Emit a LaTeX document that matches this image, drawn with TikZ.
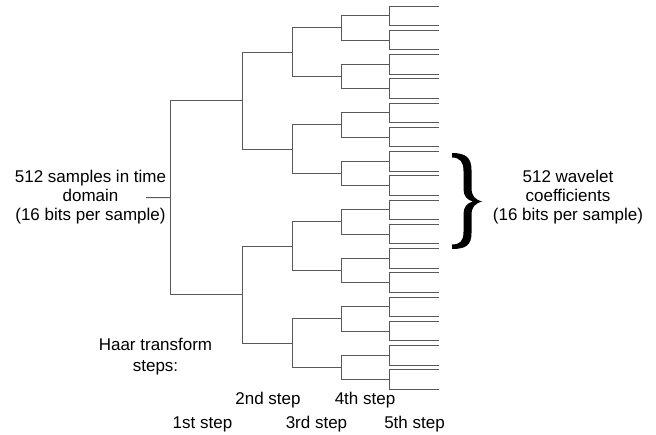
\documentclass[tikz,border=0pt]{standalone}
\usepackage{fontspec}
\setmainfont{Liberation Sans}

\begin{document}
\begin{tikzpicture}[x=1pt,y=-1pt,
  tree/.style={draw=black!65, line width=0.9pt},
  lbl/.style={font=\fontsize{17}{19}\selectfont, align=center, inner sep=0pt}]

\useasboundingbox (0,0) rectangle (656,434);

% x positions of the five Haar steps and of the output ends
\def\xA{170.7}\def\xB{242.7}\def\xC{292.7}\def\xD{341}\def\xE{389.3}\def\xF{438.7}

% branching points: level k has 2^k points
\foreach \k/\xx in {0/\xA,1/\xB,2/\xC,3/\xD,4/\xE} {
  \pgfmathtruncatemacro\N{2^\k-1}
  \foreach \n in {0,...,\N} {
    \pgfmathsetmacro\yy{15.75+24.25*((\n+0.5)*2^(4-\k)-0.5)}
    \coordinate (b\k-\n) at (\xx,\yy);
  }
}
% 32 coefficient outputs
\foreach \j in {0,...,31} {
  \pgfmathsetmacro\yy{6+24.25*floor(\j/2)+19.5*mod(\j,2)}
  \coordinate (out-\j) at (\xF,\yy);
}
\coordinate (in) at (146,197.6);

% tree connectors
\draw[tree] (in) -- (b0-0);
\foreach \k/\kk in {0/1,1/2,2/3,3/4} {
  \pgfmathtruncatemacro\N{2^\k-1}
  \foreach \n in {0,...,\N} {
    \pgfmathtruncatemacro\ca{2*\n}
    \pgfmathtruncatemacro\cb{2*\n+1}
    \draw[tree] (b\k-\n) |- (b\kk-\ca);
    \draw[tree] (b\k-\n) |- (b\kk-\cb);
  }
}
\foreach \n in {0,...,15} {
  \pgfmathtruncatemacro\ca{2*\n}
  \pgfmathtruncatemacro\cb{2*\n+1}
  \draw[tree] (b4-\n) |- (out-\ca);
  \draw[tree] (b4-\n) |- (out-\cb);
}

% labels
\node[lbl] (input) at (90.5,197) {512 samples in time\\domain\\(16 bits per sample)};
\node[lbl] (output) at (568,197) {512 wavelet\\coefficients\\(16 bits per sample)};

% large right curly brace
\fill[black] (452,153) .. controls (466,153) and (471.5,158) .. (471.5,170)
  -- (471.5,188) .. controls (471.5,196) and (475,199.5) .. (482,201.5)
  .. controls (475,203.5) and (471.5,207) .. (471.5,215)
  -- (471.5,233) .. controls (471.5,245) and (466,249) .. (452,249)
  -- (452,244.5) .. controls (460,244.5) and (463.5,241) .. (463.5,232)
  -- (463.5,214) .. controls (463.5,207) and (467,203) .. (473,201.5)
  .. controls (467,200) and (463.5,196) .. (463.5,189)
  -- (463.5,171) .. controls (463.5,162) and (460,157.5) .. (452,157.5)
  -- cycle;

\node[lbl, anchor=base, font=\fontsize{17}{21}\selectfont] (haar) at (155.5,371) {Haar transform\\steps:};
\node[lbl, anchor=base] (s1) at (202.5,428) {1st step};
\node[lbl, anchor=base] (s2) at (268,404) {2nd step};
\node[lbl, anchor=base] (s3) at (316.5,428) {3rd step};
\node[lbl, anchor=base] (s4) at (365,404) {4th step};
\node[lbl, anchor=base] (s5) at (414.5,428) {5th step};
\end{tikzpicture}
\end{document}
